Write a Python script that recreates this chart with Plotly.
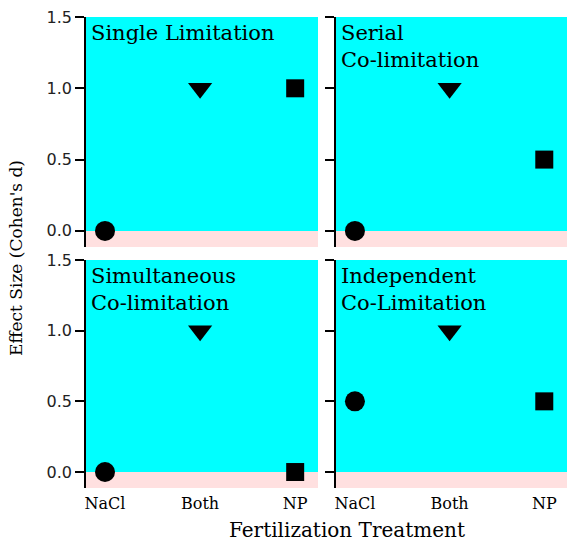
import plotly.graph_objects as go

categories = ["NaCl", "Both", "NP"]
panel_titles = ["Single Limitation", "Serial<br>Co-limitation",
                "Simultaneous<br>Co-limitation", "Independent<br>Co-Limitation"]
nacl_values = [0.0, 0.0, 0.0, 0.5]
both_values = [1.0, 1.0, 1.0, 1.0]
np_values = [1.0, 0.5, 0.0, 0.5]
y_ticks = [0.0, 0.5, 1.0, 1.5]
y_tick_labels = ["0.0", "0.5", "1.0", "1.5"]

W, H = 570, 542
xdoms = [[86 / W, 318 / W], [336 / W, 567 / W]]
ydoms = [[(H - 247) / H, (H - 17) / H], [(H - 488) / H, (H - 260) / H]]
YR = [-0.113, 1.5]
XR = [-0.2, 2.24]
serif = "DejaVu Serif"
sans = "DejaVu Sans"

fig = go.Figure()
shapes = []
annotations = []
markers = [("circle", 20), ("triangle-down", 21), ("square", 18)]
for i in range(4):
    r, c = divmod(i, 2)
    n = i + 1
    xa = "x" if n == 1 else f"x{n}"
    ya = "y" if n == 1 else f"y{n}"
    vals = [nacl_values[i], both_values[i], np_values[i]]
    for k in range(3):
        fig.add_trace(go.Scatter(
            x=[k], y=[vals[k]], mode="markers", xaxis=xa, yaxis=ya,
            marker=dict(symbol=markers[k][0], size=markers[k][1], color="black",
                        line=dict(width=0)),
            showlegend=False, hoverinfo="skip"))
    shapes.append(dict(type="rect", xref=f"{xa} domain", yref=ya, x0=0, x1=1,
                       y0=0, y1=1.5, fillcolor="#00FFFF", line=dict(width=0),
                       layer="below"))
    shapes.append(dict(type="rect", xref=f"{xa} domain", yref=ya, x0=0, x1=1,
                       y0=YR[0], y1=0, fillcolor="#FFE0E0", line=dict(width=0),
                       layer="below"))
    annotations.append(dict(text=panel_titles[i], xref=f"{xa} domain",
                            yref=f"{ya} domain", x=0.015, y=0.99,
                            xanchor="left", yanchor="top", showarrow=False,
                            align="left",
                            font=dict(family=serif, size=21, color="black")))
    xkey = "xaxis" if n == 1 else f"xaxis{n}"
    ykey = "yaxis" if n == 1 else f"yaxis{n}"
    fig.layout[xkey] = dict(domain=xdoms[c], range=XR, anchor=ya,
                            tickvals=[0, 1, 2], ticktext=categories,
                            showticklabels=(r == 1), showline=False,
                            showgrid=False, zeroline=False, ticks="",
                            automargin=False,
                            tickfont=dict(family=serif, size=16, color="black"),
                            ticklabelstandoff=4)
    fig.layout[ykey] = dict(domain=ydoms[r], range=YR, anchor=xa,
                            tickvals=y_ticks, ticktext=y_tick_labels,
                            showticklabels=(c == 0), showline=True,
                            linecolor="black", linewidth=1.5, ticks="outside",
                            ticklen=9, tickwidth=1.5, tickcolor="black",
                            showgrid=False, zeroline=False, automargin=False,
                            tickfont=dict(family=sans, size=16, color="#222222"))

annotations.append(dict(text="Effect Size (Cohen's d)", xref="paper", yref="paper",
                        x=16 / W, y=(H - 258) / H, textangle=-90, showarrow=False,
                        xanchor="center", yanchor="middle",
                        font=dict(family=serif, size=17, color="black")))
annotations.append(dict(text="Fertilization Treatment", xref="paper", yref="paper",
                        x=347 / W, y=(H - 530) / H, showarrow=False,
                        xanchor="center", yanchor="middle",
                        font=dict(family=serif, size=20, color="black")))

fig.update_layout(width=W, height=H, margin=dict(l=0, r=0, t=0, b=0),
                  paper_bgcolor="white", plot_bgcolor="white",
                  shapes=shapes, annotations=annotations, autosize=False)
fig.write_html("out.html", config={"displayModeBar": False},
               post_script="document.body.style.margin='0px';")
